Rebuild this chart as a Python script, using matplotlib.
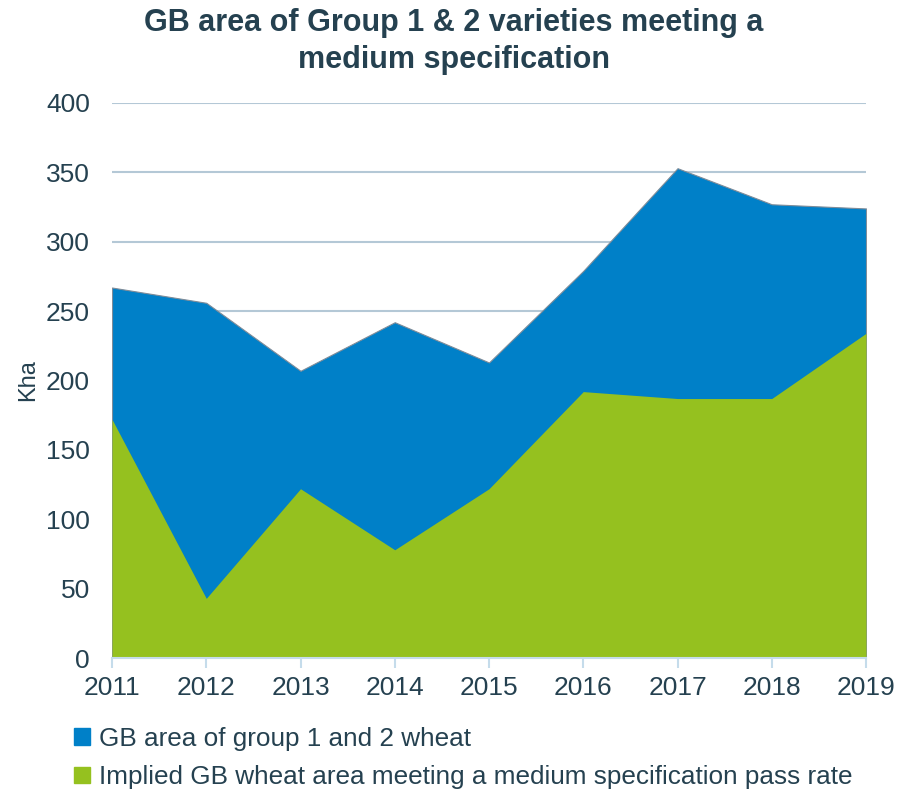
import matplotlib.pyplot as plt
from matplotlib.patches import Patch

plt.rcParams['font.family'] = ['Liberation Sans', 'DejaVu Sans']

years = [2011, 2012, 2013, 2014, 2015, 2016, 2017, 2018, 2019]
group12_area = [267, 256, 207, 242, 213, 279, 353, 327, 324]
medium_spec_area = [172, 43, 122, 78, 122, 192, 187, 187, 234]

blue = '#0080C8'
green = '#95C11F'
text_col = '#254150'
grid_col = '#B4C8D6'

fig = plt.figure(figsize=(9.07, 7.89), dpi=100)
ax = fig.add_axes([0.1235, 0.166, 0.8313, 0.7035])

ax.fill_between(years, 0, group12_area, color=blue, linewidth=0.8, edgecolor='#7f8c99', zorder=2)
ax.fill_between(years, 0, medium_spec_area, color=green, linewidth=0, zorder=3)

ax.set_xlim(2011, 2019)
ax.set_ylim(0, 400)
ax.set_yticks(range(0, 401, 50))
ax.set_xticks(years)
ax.grid(axis='y', color=grid_col, linewidth=1.5, zorder=1)
ax.set_axisbelow(True)

for s in ['top', 'right', 'left']:
    ax.spines[s].set_visible(False)
ax.spines['bottom'].set_color('#C5DCEB')
ax.spines['bottom'].set_linewidth(1.5)
ax.spines['bottom'].set_zorder(4)

ax.tick_params(axis='y', length=0, labelsize=19, labelcolor=text_col, pad=16)
ax.tick_params(axis='x', length=7, width=1.5, color='#C5DCEB', labelsize=19, labelcolor=text_col, pad=6)

ax.set_ylabel('Kha', fontsize=17, color=text_col)
ax.yaxis.set_label_coords(-0.097, 0.5)

fig.suptitle('GB area of Group 1 & 2 varieties meeting a\nmedium specification',
             x=0.5, y=0.99, fontsize=22, fontweight='bold', color=text_col, linespacing=1.3)

handles = [Patch(color=blue), Patch(color=green)]
labels = ['GB area of group 1 and 2 wheat',
          'Implied GB wheat area meeting a medium specification pass rate']
fig.legend(handles, labels, loc='upper left', bbox_to_anchor=(0.07, 0.092),
           frameon=False, fontsize=18.8, labelcolor=text_col, handlelength=0.6,
           handleheight=0.6, handletextpad=0.35, labelspacing=0.55, borderaxespad=0)

fig.savefig('out.png', dpi=100)
